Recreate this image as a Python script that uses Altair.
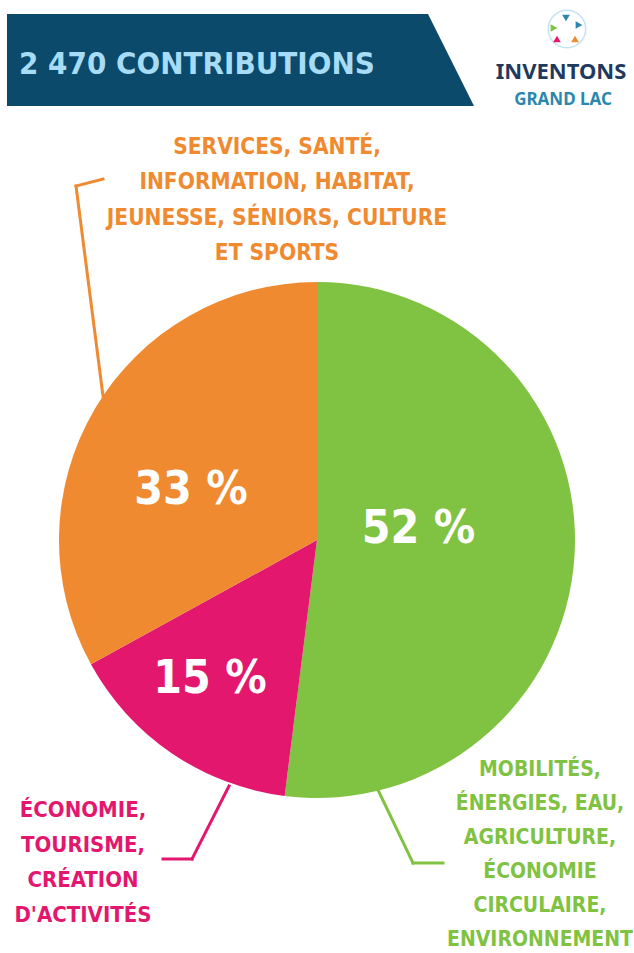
import altair as alt
import pandas as pd

# ---- data ----
categories = ["env", "eco", "services"]
values = [52, 15, 33]
pct_labels = ["52 %", "15 %", "33 %"]
colors = ["#80c241", "#e3176e", "#ef8a31"]
descriptions = [
    ["MOBILITÉS,", "ÉNERGIES, EAU,", "AGRICULTURE,", "ÉCONOMIE", "CIRCULAIRE,", "ENVIRONNEMENT"],
    ["ÉCONOMIE,", "TOURISME,", "CRÉATION", "D'ACTIVITÉS"],
    ["SERVICES, SANTÉ,", "INFORMATION, HABITAT,", "JEUNESSE, SÉNIORS, CULTURE", "ET SPORTS"],
]
title_text = "2 470 CONTRIBUTIONS"
logo_line1 = "INVENTONS"
logo_line2 = "GRAND LAC"

FONT = "DejaVu Sans Condensed, sans-serif"
W, H = 634, 953

df = pd.DataFrame({
    "cat": categories,
    "value": values,
    "label": pct_labels,
    "desc": ["\n".join(d) for d in descriptions],
    "idx": list(range(len(categories))),
})

base = alt.Chart(df)
one = pd.DataFrame({"a": [0]})

pie = base.mark_arc(outerRadius=258).encode(
    theta=alt.Theta("value:Q", stack=True),
    color=alt.Color("cat:N", scale=alt.Scale(domain=categories, range=colors), legend=None),
    order=alt.Order("idx:Q"),
    x=alt.value(317),
    y=alt.value(540),
)

def pct(cat, x, y):
    return base.transform_filter(alt.datum.cat == cat).mark_text(
        font=FONT, fontWeight="bold", fontSize=46, color="white",
        align="center", baseline="alphabetic"
    ).encode(text="label:N", x=alt.value(x), y=alt.value(y))

def desc(cat, x, y, color, size, lh):
    return base.transform_filter(alt.datum.cat == cat).mark_text(
        font=FONT, fontWeight="bold", fontSize=size, color=color,
        align="center", baseline="alphabetic", lineBreak="\n", lineHeight=lh
    ).encode(text="desc:N", x=alt.value(x), y=alt.value(y))

def seg(x1, y1, x2, y2, color):
    return alt.Chart(one).mark_rule(
        color=color, strokeWidth=3, strokeCap="square"
    ).encode(x=alt.value(x1), y=alt.value(y1), x2=alt.value(x2), y2=alt.value(y2))

# banner: trapezoid drawn as a custom symbol (unit box [-1,1] scaled by sqrt(size)/2)
banner = alt.Chart(one).mark_point(
    shape="M-1,-0.197L0.803,-0.197L1,0.197L-1,0.197Z",
    size=467 * 467, filled=True, color="#0c4a6b", opacity=1, strokeWidth=0
).encode(x=alt.value(240.5), y=alt.value(60))

title = alt.Chart(pd.DataFrame({"t": [title_text]})).mark_text(
    font=FONT, fontWeight="bold", fontSize=31, color="#a6dcf6",
    align="left", baseline="alphabetic"
).encode(text="t:N", x=alt.value(19), y=alt.value(73.5))

# logo
logo_txt1 = alt.Chart(pd.DataFrame({"t": [logo_line1]})).mark_text(
    font="Noto Sans", fontWeight="bold", fontSize=22, color="#1f3a5e",
    align="center", baseline="alphabetic"
).encode(text="t:N", x=alt.value(561), y=alt.value(79))
logo_txt2 = alt.Chart(pd.DataFrame({"t": [logo_line2]})).mark_text(
    font="Noto Sans", fontWeight="bold", fontSize=17, color="#2b87ad",
    align="center", baseline="alphabetic"
).encode(text="t:N", x=alt.value(563), y=alt.value(105))
logo_circle = alt.Chart(one).mark_point(
    shape="circle", size=1400, filled=False, stroke="#a9d8ec", strokeWidth=1.5
).encode(x=alt.value(567), y=alt.value(29))
arrow_cols = ["#2b87ad", "#2b87ad", "#80c241", "#e3176e", "#ef8a31"]
arrow_x = [566, 579, 554, 557, 575]
arrow_y = [18, 25, 28, 39, 39]
arrow_a = [180, 90, 90, 0, 0]
arrows = []
for c, ax, ay, aa in zip(arrow_cols, arrow_x, arrow_y, arrow_a):
    arrows.append(alt.Chart(one).mark_point(
        shape="triangle-up", size=60, filled=True, color=c, angle=aa, opacity=1
    ).encode(x=alt.value(ax), y=alt.value(ay)))

layers = [banner, title, logo_circle] + arrows + [logo_txt1, logo_txt2, pie,
    pct("env", 418.5, 543), pct("eco", 210, 693), pct("services", 191, 504),
    desc("services", 277, 153.5, "#ef8a31", 22.5, 35.5),
    desc("eco", 83, 817, "#e3176e", 22, 35),
    desc("env", 540, 776, "#80c241", 21, 34),
    seg(103, 179, 76, 186, "#ef8a31"), seg(76, 186, 103, 396, "#ef8a31"),
    seg(229, 786, 192, 859, "#e3176e"), seg(192, 859, 163, 859, "#e3176e"),
    seg(378, 790, 413, 863, "#80c241"), seg(413, 863, 443, 863, "#80c241"),
]

chart = alt.layer(*layers).properties(
    width=W, height=H, autosize=alt.AutoSizeParams(type="none"), padding=0,
    background="white"
).configure_view(stroke=None)

chart.save("out.html", embed_options={"renderer": "svg", "actions": False})
